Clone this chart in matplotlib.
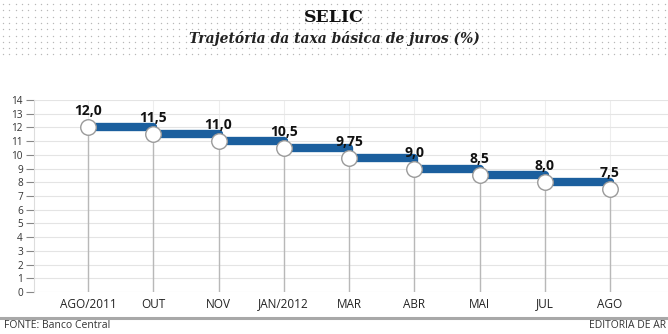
import numpy as np
import matplotlib
matplotlib.use("Agg")
import matplotlib.pyplot as plt

months = ["AGO/2011", "OUT", "NOV", "JAN/2012", "MAR", "ABR", "MAI", "JUL", "AGO"]
rates = [12.0, 11.5, 11.0, 10.5, 9.75, 9.0, 8.5, 8.0, 7.5]
labels = ["12,0", "11,5", "11,0", "10,5", "9,75", "9,0", "8,5", "8,0", "7,5"]
yticks = list(range(0, 15))

W, H = 668, 334
fig = plt.figure(figsize=(W/100, H/100), dpi=100)
fig.patch.set_facecolor("white")

# dotted header background
gx, gy = np.meshgrid(np.arange(3, W, 6.3), np.arange(4, 60, 6.3))
bg = fig.add_axes([0, 0, 1, 1], zorder=-5)
bg.set_xlim(0, W); bg.set_ylim(H, 0); bg.axis("off")
bg.scatter(gx.ravel(), gy.ravel(), s=1.0, color="#b8b8b8", linewidths=0)
bg.plot([0, W], [318, 318], color="#a8a8a8", lw=2.2)

sans = ["Liberation Sans Narrow", "Open Sans", "DejaVu Sans"]
fig.text(0.5, 1 - 18/H, "SELIC", ha="center", va="center", fontsize=12.5,
         fontweight="heavy", family="DejaVu Serif", color="#111111")
fig.text(0.5, 1 - 38/H, "Trajetória da taxa básica de juros (%)", ha="center", va="center",
         fontsize=10, fontweight="bold", style="italic", family="DejaVu Serif", color="#222222")
fig.text(4/W, 1 - 326/H, "FONTE: Banco Central", ha="left", va="center", fontsize=7.5,
         family=sans, color="#333333")
fig.text(666/W, 1 - 326/H, "EDITORIA DE AR", ha="right", va="center", fontsize=7.5,
         family=sans, color="#333333")

ax = fig.add_axes([34/W, 42/H, (W-34)/W, 192/H])
x = np.arange(len(months))
ax.set_xlim(-(88-34)/65.25, (668-88)/65.25)
ax.set_ylim(0, 14)
for s in ["top", "right", "bottom"]:
    ax.spines[s].set_visible(False)
ax.spines["left"].set_color("#dddddd")
ax.set_yticks(yticks)
ax.set_yticklabels([str(v) for v in yticks], fontsize=7.2, family=sans, color="#333333")
ax.tick_params(axis="y", length=6, width=0.8, color="#888888", pad=2)
ax.set_xticks(x)
ax.set_xticklabels(months, fontsize=8.5, family=sans, color="#222222")
ax.tick_params(axis="x", length=0, pad=4)
ax.grid(axis="y", color="#e4e4e4", lw=0.8)
ax.grid(axis="x", color="#ededed", lw=0.8)
ax.set_axisbelow(True)

ax.vlines(x, 0, rates, color="#b8b8b8", lw=1, zorder=2)
ax.plot(x, rates, drawstyle="steps-post", color="#1b5f9e", lw=6,
        solid_joinstyle="round", solid_capstyle="round", zorder=3)
ax.scatter(x, rates, s=125, facecolor="white", edgecolor="#9a9a9a", lw=1, zorder=4, clip_on=False)
for xi, r, lab in zip(x, rates, labels):
    ax.annotate(lab, (xi, r), xytext=(0, 6.5), textcoords="offset points", ha="center",
                va="bottom", fontsize=10, fontweight="bold", family=sans, color="#111111")

fig.savefig("out.png", dpi=100)
